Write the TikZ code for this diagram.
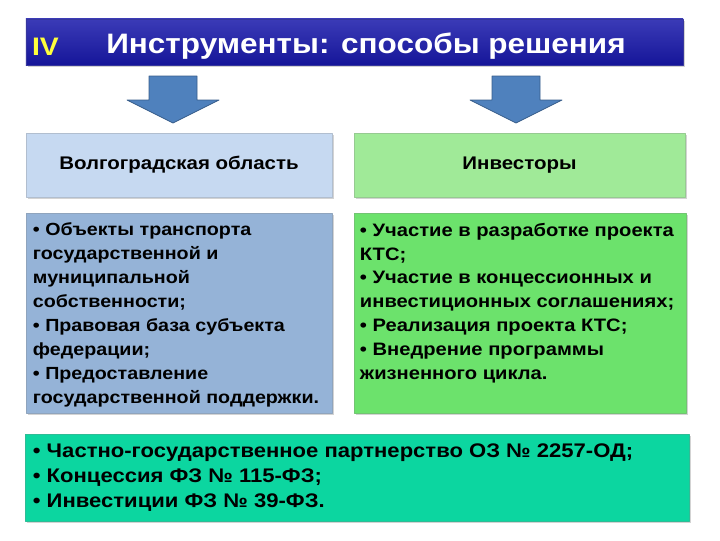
\documentclass[tikz,border=0pt]{standalone}
\usepackage{fontspec}
\setmainfont[FakeStretch=1.12]{Liberation Sans}
\usetikzlibrary{shadows}
\definecolor{barblue}{RGB}{24,24,170}
\definecolor{ivyellow}{RGB}{255,255,60}
\definecolor{arrowblue}{RGB}{79,129,189}
\definecolor{arrowline}{RGB}{56,93,138}
\definecolor{headblue}{RGB}{198,217,241}
\definecolor{headgreen}{RGB}{160,234,152}
\definecolor{bodyblue}{RGB}{149,179,215}
\definecolor{bodygreen}{RGB}{108,226,108}
\definecolor{lawteal}{RGB}{12,214,160}
\begin{document}
\begin{tikzpicture}[x=0.025cm, y=-0.025cm, line join=round]
	\tikzset{card/.style={draw=#1!70!gray, fill=#1, line width=0.4pt, inner sep=0pt,
			drop shadow={shadow xshift=1.2pt, shadow yshift=-1.5pt, opacity=0.35}},
		every node/.style={font=\bfseries\fontsize{12.8}{17}\selectfont}}
	\useasboundingbox (0,0) rectangle (720,540);
	\node[card=barblue, top color=barblue!85!white, bottom color=barblue!90!black,
		minimum width=16.425cm, minimum height=1.15cm] (title) at (354.5,42) {};
	\node[text=ivyellow, font=\bfseries\fontsize{18}{22}\selectfont] (num) at (45.5,47) {IV};
	\node[text=white, font=\bfseries\fontsize{20}{24}\selectfont] (head) at (366,46) {Инструменты: способы решения};
	\node[card=headblue, minimum width=7.65cm, minimum height=1.6cm,
		font=\bfseries\fontsize{13}{17}\selectfont] (obl) at (179,165) {Волгоградская область};
	\node[card=headgreen, minimum width=8.275cm, minimum height=1.6cm,
		font=\bfseries\fontsize{13}{17}\selectfont] (inv) at (519.5,165) {Инвесторы};
	\node[card=bodyblue, minimum width=7.65cm, minimum height=5cm,
		font=\bfseries\fontsize{12.5}{17}\selectfont] (oblbody) at (179,313)
		{\parbox[c][4.5cm][t]{7.3cm}{\raggedright
			• Объекты транспорта\\ государственной и\\ муниципальной\\ собственности;\\
			• Правовая база субъекта\\ федерации;\\ • Предоставление\\ государственной поддержки.}};
	\node[card=bodygreen, minimum width=8.3cm, minimum height=5cm] (invbody) at (520,313)
		{\parbox[c][4.5cm][t]{8.0cm}{\raggedright
			• Участие в разработке проекта\\ КТС;\\ • Участие в концессионных и\\ инвестиционных соглашениях;\\
			• Реализация проекта КТС;\\ • Внедрение программы\\ жизненного цикла.}};
	\node[card=lawteal, minimum width=16.6cm, minimum height=2.175cm,
		font=\bfseries\fontsize{14}{17.5}\selectfont] (law) at (357,477.5)
		{\parbox{16.2cm}{\raggedright
			• Частно-государственное партнерство ОЗ № 2257-ОД;\\
			• Концессия ФЗ № 115-ФЗ;\\ • Инвестиции ФЗ № 39-ФЗ.}};
	\foreach \c in {173,516}
	\draw[arrowline, fill=arrowblue, line width=0.6pt] (\c-24,76) -- (\c+24,76) -- (\c+24,100) -- (\c+46,100)
		-- (\c,123) -- (\c-46,100) -- (\c-24,100) -- cycle;
\end{tikzpicture}
\end{document}
